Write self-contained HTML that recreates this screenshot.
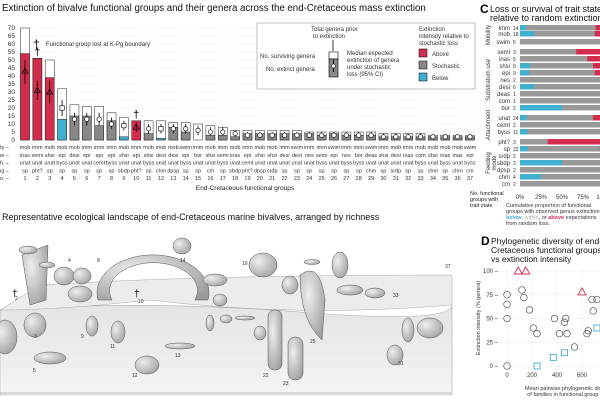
<!DOCTYPE html>
<html><head><meta charset="utf-8"><style>
body{margin:0;background:#fff}
svg{display:block;font-family:"Liberation Sans",sans-serif}
</style></head><body>
<svg id="fig" width="600" height="400" viewBox="0 0 600 400">
<defs>
<linearGradient id="sed" x1="0" y1="0" x2="0" y2="1"><stop offset="0" stop-color="#e4e4e4"/><stop offset="1" stop-color="#f4f4f4"/></linearGradient>
<radialGradient id="shell" cx="0.35" cy="0.35" r="0.8"><stop offset="0" stop-color="#eee"/><stop offset="1" stop-color="#9a9a9a"/></radialGradient>
</defs>
<text x="2" y="11" font-size="9.7" fill="#111">Extinction of bivalve functional groups and their genera across the end-Cretaceous mass extinction</text>
<g id="panelA"></g>
<g>
<rect x="257" y="23" width="218" height="66" fill="#fff" stroke="#999" stroke-width="0.6"/>
<text x="311" y="31" font-size="6" fill="#333">Total genera prior</text>
<text x="313" y="38" font-size="6" fill="#333">to extinction</text>
<line x1="333" y1="40" x2="333" y2="51" stroke="#000" stroke-width="0.8"/>
<rect x="329" y="52" width="9" height="7" fill="#fff" stroke="#000" stroke-width="0.6"/>
<rect x="329" y="59" width="9" height="18" fill="#888" stroke="#000" stroke-width="0.6"/>
<line x1="333.5" y1="60" x2="333.5" y2="72" stroke="#000"/><circle cx="333.5" cy="66" r="2" fill="#fff" stroke="#000" stroke-width="0.6"/>
<text x="260" y="58" font-size="6" fill="#333">No. surviving genera</text>
<text x="266" y="71" font-size="6" fill="#333">No. extinct genera</text>
<text x="347" y="55" font-size="6" fill="#333">Median expected</text>
<text x="347" y="62" font-size="6" fill="#333">extinction of genera</text>
<text x="347" y="69" font-size="6" fill="#333">under stochastic</text>
<text x="347" y="76" font-size="6" fill="#333">loss (95% CI)</text>
<text x="419" y="31" font-size="6" fill="#333">Extinction</text>
<text x="419" y="38" font-size="6" fill="#333">intensity relative to</text>
<text x="419" y="45" font-size="6" fill="#333">stochastic loss</text>
<rect x="419" y="49" width="8" height="8" fill="#d42c4c" stroke="#000" stroke-width="0.5"/><text x="432" y="56" font-size="6" fill="#333">Above</text>
<rect x="419" y="61" width="8" height="8" fill="#888" stroke="#000" stroke-width="0.5"/><text x="432" y="68" font-size="6" fill="#333">Stochastic</text>
<rect x="419" y="73" width="8" height="8" fill="#3fb0d0" stroke="#000" stroke-width="0.5"/><text x="432" y="80" font-size="6" fill="#333">Below</text>
</g>
<g>
<text x="33" y="48" font-size="12" fill="#000">†</text>
<text x="46" y="46" font-size="6" fill="#333">Functional group lost at K-Pg boundary</text>
</g>
<text x="245" y="190" font-size="6.5" text-anchor="middle" fill="#222">End-Cretaceous functional groups</text>

<text x="480" y="13" font-size="12" font-weight="bold">C</text>
<text x="490" y="12" font-size="9" fill="#111">Loss or survival of trait states</text>
<text x="490" y="21" font-size="9" fill="#111">relative to random extinction</text>
<g id="panelC"></g>
<text x="470" y="195" font-size="5.5" fill="#222"><tspan x="470">No. functional</tspan><tspan x="470" dy="6">groups with</tspan><tspan x="470" dy="6">trait state</tspan></text>
<text x="506" y="207" font-size="5.5" fill="#333"><tspan x="506">Cumulative proportion of functional</tspan><tspan x="506" dy="6">groups with observed genus extinction</tspan><tspan x="506" dy="6"><tspan fill="#3fb0d0" font-weight="bold">below</tspan>, <tspan fill="#aaa">within</tspan>, or <tspan fill="#d42c4c" font-weight="bold">above</tspan> expectations</tspan><tspan x="506" dy="6">from random loss.</tspan></text>

<text x="481" y="245" font-size="12" font-weight="bold">D</text>
<text x="491" y="244" font-size="8.5" fill="#111"><tspan x="491">Phylogenetic diversity of end-</tspan><tspan x="491" dy="9">Cretaceous functional groups</tspan><tspan x="491" dy="9">vs extinction intensity</tspan></text>
<g id="panelD"></g>
<text x="570" y="390" font-size="5.5" text-anchor="middle" fill="#333"><tspan x="570">Mean pairwise phylogenetic distance</tspan><tspan x="570" dy="6">of families in functional group (Myr)</tspan></text>
<text transform="translate(480,318) rotate(-90)" font-size="5.5" text-anchor="middle" fill="#333">Extinction intensity (% genera)</text>

<text x="2" y="220" font-size="9" fill="#111">Representative ecological landscape of end-Cretaceous marine bivalves, arranged by richness</text>
<g>
<path d="M0 310 Q150 300 300 312 T452 305 L452 395 L0 395 Z" fill="url(#sed)" stroke="#aaa" stroke-width="0.6"/>
<path d="M0 310 L40 285 Q200 275 452 275 L452 305 Q300 318 150 300 Q60 310 0 310Z" fill="#ececec" stroke="#aaa" stroke-width="0.5"/>
<line x1="0" y1="393" x2="452" y2="393" stroke="#bbb"/>
<g fill="url(#shell)" stroke="#555" stroke-width="0.5">
<path d="M22 255 L48 245 L46 300 L30 305Z"/><ellipse cx="28" cy="250" rx="9" ry="4"/><ellipse cx="47" cy="265" rx="8" ry="3"/>
<path d="M98 300 A56 38 0 1 1 208 300 L195 300 A44 28 0 1 0 112 300Z"/>
<ellipse cx="64" cy="276" rx="10" ry="9"/><ellipse cx="82" cy="276" rx="9" ry="8"/><ellipse cx="80" cy="294" rx="12" ry="8"/>
<ellipse cx="5" cy="337" rx="12" ry="17"/><ellipse cx="35" cy="325" rx="11" ry="12"/><ellipse cx="50" cy="358" rx="16" ry="6"/>
<ellipse cx="92" cy="326" rx="6" ry="10"/><ellipse cx="118" cy="332" rx="7" ry="11"/><ellipse cx="147" cy="365" rx="12" ry="9"/><ellipse cx="180" cy="346" rx="15" ry="3"/>
<ellipse cx="182" cy="246" rx="9" ry="8"/><ellipse cx="215" cy="280" rx="12" ry="6"/><ellipse cx="220" cy="300" rx="7" ry="6"/>
<ellipse cx="263" cy="265" rx="14" ry="12"/><ellipse cx="290" cy="285" rx="8" ry="9"/><ellipse cx="210" cy="323" rx="4" ry="8"/><ellipse cx="226" cy="319" rx="6" ry="4"/><ellipse cx="245" cy="318" rx="10" ry="2"/><ellipse cx="260" cy="333" rx="6" ry="7"/>
<rect x="268" y="310" width="14" height="60" rx="6"/><rect x="288" y="337" width="15" height="43" rx="7"/>
<path d="M300 275 Q320 260 325 300 L322 340 Q300 320 300 275Z"/>
<ellipse cx="312" cy="262" rx="8" ry="2.5"/><ellipse cx="340" cy="265" rx="8" ry="13"/><ellipse cx="350" cy="290" rx="13" ry="5"/>
<ellipse cx="375" cy="293" rx="10" ry="5"/><ellipse cx="395" cy="355" rx="8" ry="10"/><ellipse cx="408" cy="330" rx="6" ry="12"/><ellipse cx="430" cy="328" rx="13" ry="10"/>
</g>
<g font-size="5" fill="#333"><text x="15" y="300">2</text><text x="68" y="262">4</text><text x="97" y="262">8</text><text x="138" y="303">10</text><text x="180" y="262">14</text><text x="242" y="265">19</text><text x="34" y="338">3</text><text x="33" y="372">5</text><text x="81" y="338">9</text><text x="110" y="348">11</text><text x="132" y="377">12</text><text x="175" y="357">13</text><text x="263" y="377">22</text><text x="283" y="385">23</text><text x="310" y="343">25</text><text x="398" y="365">31</text><text x="393" y="297">33</text><text x="445" y="268">37</text></g>
<text x="12" y="297" font-size="10">†</text><text x="134" y="297" font-size="10">†</text>
</g>
<script>
const NS="http://www.w3.org/2000/svg";
function mk(p,t,a){const e=document.createElementNS(NS,t);for(const k in a)e.setAttribute(k,a[k]);p.appendChild(e);return e;}
// ---- Panel A data ----
const groupNo=[1,2,3,4,5,6,7,8,9,10,11,12,13,14,15,16,17,18,19,20,21,22,23,24,25,26,27,28,29,30,31,32,33,34,35,36,37];
const totalGenera=[70,51,50,32,22,21,21,17,14,12,12,12,11,11,10,9,8,6,6,6,6,6,6,5,5,5,5,5,5,4,4,4,4,3,3,3,3];
const extinctGenera=[54,51,39,13,15,15,9,12,2,12,4,1,8,5,0,3,3,2,4,4,4,4,4,4,3,4,3,3,3,2,2,2,2,2,2,2,2];
const medianExp=[43,31,30,20,13,13,13,10,9,8,7,7,7,7,6,5,5,4,3,3,3,3,3,3,3,3,3,3,3,2,2,2,2,2,2,2,2];
const ciLow=[35,25,23,15,9,9,9,7,6,5,4,4,4,4,3,3,3,2,2,2,2,2,2,2,2,2,2,2,2,1,1,1,1,1,1,1,1];
const ciHigh=[50,37,37,25,17,17,17,14,12,11,10,10,10,10,9,8,8,6,5,5,5,5,5,5,5,5,5,5,5,4,4,4,4,3,3,3,3];
const status=["above","above","above","below","stoch","stoch","stoch","stoch","below","above","stoch","below","stoch","stoch","stoch","stoch","stoch","stoch","stoch","stoch","stoch","stoch","stoch","stoch","stoch","stoch","stoch","stoch","stoch","stoch","stoch","stoch","stoch","stoch","stoch","stoch","stoch"];
const lostGroups=[2,10];
const mobility=["mob","imm","mob","mob","mob","imm","imm","imm","mob","imm","mob","mob","mob","swim","imm","mob","imm","mob","imm","mob","mob","imm","swim","imm","imm","swim","imm","imm","swim","imm","mob","imm","mob","mob","mob","mob","swim"];
const substrate=["inas","semi","shsi","epi","desi","epi","epi","epi","shsi","epi","shsi","desi","desi","epi","bor","shsi","semi","inas","epi","shsi","shsi","desi","desi","nes","semi","epi","nes","bor","deas","shsi","desi","inas","com","shsi","inas","inas","epi"];
const attach=["unat","unat","unat","byss","unat","unat","cemt","byss","unat","unat","byss","unat","unat","byss","unat","unat","byss","unat","cemt","unat","unat","unat","unat","unat","byss","unat","byss","byss","unat","unat","unat","unat","byss","unat","byss","unat","byss"];
const feeding=["sp","pht?","sp","sp","sp","sp","sp","sp","sbdp","pht?","sp","chm","dpsp","sp","sp","cm","sp","sbdp","pht?","dpsp","srdp","sp","sp","sp","sp","sp","sp","sp","chm","sp","srdp","sp","sp","chm","sp","chm","cm"];
const yTicks=[0,5,10,15,20,25,30,35,40,45,50,55,60,65,70];
const rowNames=["ity –","t use –","h. –","ling –","p no. –"];
const colors={above:"#d42c4c",below:"#3fb0d0",stoch:"#888"};
const A=document.getElementById("panelA");
const ay=v=>140-v*1.6, ax=i=>25+i*12.36;
yTicks.forEach(t=>{
 if(t>0){const gl=mk(A,"line",{x1:20,x2:475,y1:ay(t),y2:ay(t),stroke:"#ccc","stroke-width":0.5,"stroke-dasharray":"1,1.5"});
 
 }
 const tl=mk(A,"text",{x:15,y:ay(t)+2,"font-size":6.5,"text-anchor":"end",fill:"#333"});tl.textContent=t;
 
 
});
rowNames.forEach((r,k)=>{const t=mk(A,"text",{x:9,y:149+k*7.8,"font-size":5.5,"text-anchor":"end",fill:"#333"});t.textContent=r;
 
 });
totalGenera.forEach((tot,i)=>{
 const x=ax(i),w=9;
 const g=mk(A,"g",{});
 
 
 mk(g,"rect",{x:x-w/2,y:ay(tot),width:w,height:ay(0)-ay(tot),fill:"#fff",stroke:"#222","stroke-width":0.5});
 mk(g,"rect",{x:x-w/2,y:ay(extinctGenera[i]),width:w,height:ay(0)-ay(extinctGenera[i]),fill:colors[status[i]],stroke:"#222","stroke-width":0.5});
 mk(g,"line",{x1:x,x2:x,y1:ay(ciLow[i]),y2:ay(ciHigh[i]),stroke:"#000","stroke-width":0.8});
 const my=ay(medianExp[i]);
 if(status[i]==="above") mk(g,"path",{d:`M${x} ${my-3}L${x+3} ${my+2}L${x-3} ${my+2}Z`,fill:"none",stroke:"#000","stroke-width":0.7});
 else if(status[i]==="below") mk(g,"rect",{x:x-2.2,y:my-2.2,width:4.4,height:4.4,fill:"#fff",stroke:"#000","stroke-width":0.6});
 else mk(g,"circle",{cx:x,cy:my,r:2.2,fill:"#fff",stroke:"#000","stroke-width":0.6});
 if(lostGroups.includes(groupNo[i])){const d=mk(g,"text",{x:x,y:ay(tot)-3,"font-size":11,"text-anchor":"middle"});d.textContent="†";}
 [mobility[i],substrate[i],attach[i],feeding[i],groupNo[i]].forEach((s,k)=>{
  const t=mk(g,"text",{x:x,y:149+k*7.8,"font-size":5.5,"text-anchor":"middle",fill:"#333"});t.textContent=s;});
});
// ---- Panel C data ----
const traits=["imm","mob","swim","semi","inas","shsi","epi","nes","desi","deas","com","bor","unat","cemt","byss","pht?","sp","srdp","sbdp","dpsp","chm","cm"];
const traitCounts=[14,18,5,3,5,8,9,2,6,1,1,2,24,2,11,3,22,2,2,2,4,2];
const propBelow=[0.07,0.17,0,0,0,0.12,0.11,0,0.17,0,0,0.5,0.08,0,0.09,0,0.09,0,0.5,0,0.25,0];
const propAbove=[0.1,0.11,0,0.33,0.2,0.13,0.11,0,0,0,0,0,0.13,0,0,0.67,0.05,0,0,0,0,0];
const traitY=[28,34,42,52,59,66,73,80,87,94,101,108,118,125,132,142,149,156,163,170,177,184];
const cTicks=["0%","25%","50%","75%","100%"];
const C=document.getElementById("panelC");
const cx=p=>520+p*84;
traits.forEach((t,i)=>{
 const y=traitY[i];
 const g=mk(C,"g",{});
 
 
 mk(g,"rect",{x:cx(0),y:y-3,width:cx(1)-cx(0),height:5.5,fill:"#999"});
 mk(g,"rect",{x:cx(0),y:y-3,width:cx(propBelow[i])-cx(0),height:5.5,fill:"#3fb0d0"});
 mk(g,"rect",{x:cx(1-propAbove[i]),y:y-3,width:cx(1)-cx(1-propAbove[i]),height:5.5,fill:"#d42c4c"});
 const l=mk(g,"text",{x:510,y:y+2,"font-size":6,"text-anchor":"end",fill:"#333"});l.textContent=t;
 const c=mk(g,"text",{x:513,y:y+2,"font-size":5,fill:"#333"});c.textContent=traitCounts[i];
});
cTicks.forEach((t,k)=>{const e=mk(C,"text",{x:cx(k/4),y:199,"font-size":6,"text-anchor":"middle",fill:"#333"});e.textContent=t;
 
 });
[["Mobility",35],["Substratum use",80],["Attachment",125],["Feeding mode",163]].forEach(([s,y],k)=>{
 const lines=s==="Feeding mode"?["Feeding","mode"]:[s];
 lines.forEach((ln,j)=>{const e=mk(C,"text",{transform:`translate(${490+j*6},${y}) rotate(-90)`,"font-size":6,"text-anchor":"middle",fill:"#333"});e.textContent=ln;
 
 });
});
// ---- Panel D data ----
const dDist=[0,0,0,0,120,135,180,210,240,380,420,460,470,480,540,640,650,680,690,720,90,150,600,240,370,460,720];
const dIntensity=[75,65,50,0,80,72,59,40,34,50,34,46,50,34,20,34,37,70,58,70,100,100,78,0,9,14,40];
const dStatus=["s","s","s","s","s","s","s","s","s","s","s","s","s","s","s","s","s","s","s","s","a","a","a","b","b","b","b"];
const dXTicks=[0,200,400,600];
const dYTicks=[0,25,50,75,100];
const D=document.getElementById("panelD");
const dx=v=>507+v*0.125, dy=v=>366-v*0.95;
dXTicks.forEach(t=>{mk(D,"line",{x1:dx(t),x2:dx(t),y1:268,y2:368,stroke:"#ccc","stroke-width":0.5,"stroke-dasharray":"1,1.5"});
 const e=mk(D,"text",{x:dx(t),y:377,"font-size":6,"text-anchor":"middle",fill:"#333"});e.textContent=t;
 
 });
dYTicks.forEach(t=>{mk(D,"line",{x1:503,x2:600,y1:dy(t),y2:dy(t),stroke:"#ccc","stroke-width":0.5,"stroke-dasharray":"1,1.5"});
 const e=mk(D,"text",{x:498,y:dy(t)+2,"font-size":6,"text-anchor":"end",fill:"#333"});e.textContent=t+" –";
 
 });
dDist.forEach((v,i)=>{
 const x=dx(v),y=dy(dIntensity[i]);let e;
 if(dStatus[i]==="a") e=mk(D,"path",{d:`M${x} ${y-4}L${x+4} ${y+3}L${x-4} ${y+3}Z`,fill:"none",stroke:"#d42c4c","stroke-width":0.9});
 else if(dStatus[i]==="b") e=mk(D,"rect",{x:x-3,y:y-3,width:6,height:6,fill:"none",stroke:"#3fb0d0","stroke-width":0.9});
 else e=mk(D,"circle",{cx:x,cy:y,r:3.3,fill:"none",stroke:"#555","stroke-width":0.7});
 
 
});
</script>
</svg>
</body></html>
